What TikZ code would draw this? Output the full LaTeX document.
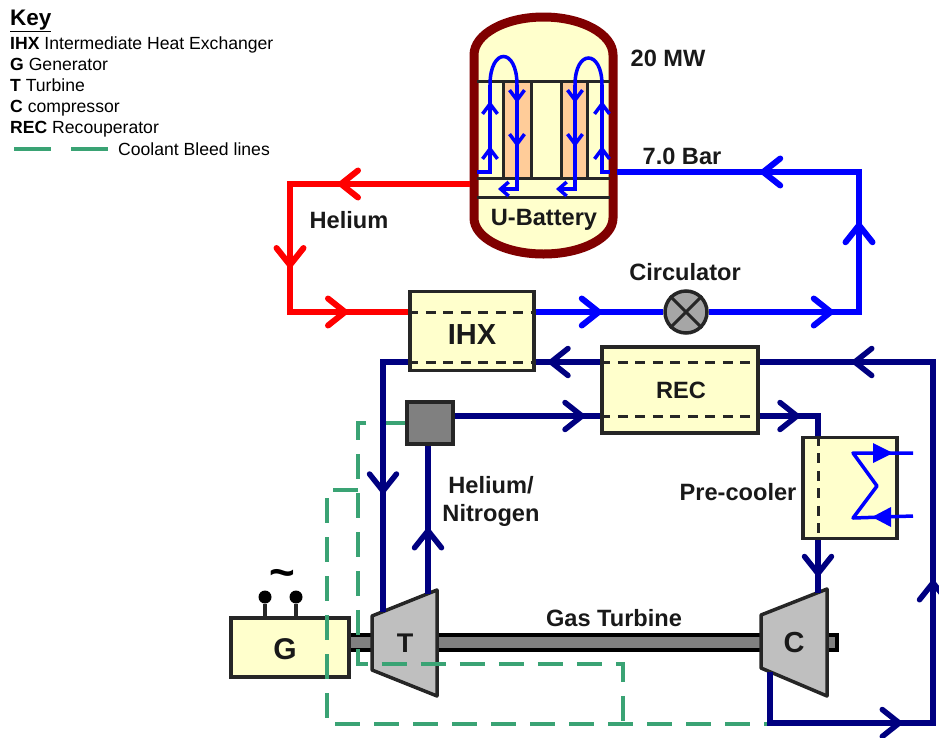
\documentclass[tikz,border=0pt]{standalone}
\usepackage{fontspec}
\setmainfont{Liberation Sans}
\usetikzlibrary{arrows.meta, decorations.markings}
\definecolor{cream}{HTML}{FFFFCC}
\definecolor{corepeach}{HTML}{FFCC99}
\definecolor{vesselred}{HTML}{800000}
\definecolor{bleedgreen}{HTML}{3AA374}
\definecolor{casinggray}{HTML}{BFBFBF}
\definecolor{navypipe}{HTML}{000080}

\begin{document}
\begin{tikzpicture}[
    x=1pt, y=-1pt,
    pipetip/.style={postaction={decorate,decoration={markings,
        mark=at position #1 with {\arrow{Straight Barb[length=17pt,width=27pt,round]}}}}},
    coretip/.style={postaction={decorate,decoration={markings,
        mark=at position #1 with {\arrow{Straight Barb[length=10pt,width=15pt]}}}}},
    hotpipe/.style={line width=6pt, color=red},
    coldpipe/.style={line width=6pt, color=blue},
    gaspipe/.style={line width=5.5pt, color=navypipe},
    corepipe/.style={line width=3.5pt, color=blue},
    bleedline/.style={line width=3.3pt, color=bleedgreen, dash pattern=on 25pt off 14pt},
    innerdash/.style={line width=3pt, color=black!85, dash pattern=on 10pt off 7.5pt},
    plant/.style={draw=black!85, line width=3.5pt, fill=cream, inner sep=0pt},
    casing/.style={draw=black!85, line width=3.5pt, fill=casinggray, line join=round},
    keytext/.style={anchor=base west, inner sep=0pt, font=\fontsize{17.6}{20}\selectfont},
    boldtext/.style={inner sep=0pt, font=\fontsize{23.6}{28}\bfseries\selectfont, text=black!90, align=center}
]
\useasboundingbox (0,0) rectangle (939,737);

% key
\node[keytext, font=\fontsize{22.5}{25}\bfseries\selectfont] (keyhead) at (10,25) {\underline{Key}};
\node[keytext] (keyihx) at (10,49) {\textbf{IHX} Intermediate Heat Exchanger};
\node[keytext] (keyg) at (10,70) {\textbf{G} Generator};
\node[keytext] (keyt) at (10,91) {\textbf{T} Turbine};
\node[keytext] (keyc) at (10,112) {\textbf{C} compressor};
\node[keytext] (keyrec) at (10,133) {\textbf{REC} Recouperator};
\node[keytext] (keybleed) at (118,155) {Coolant Bleed lines};
\coordinate (keydash) at (14,149);
\draw[bleedline, dash pattern=on 37pt off 20pt] (keydash) -- (108,149);

% reactor vessel
\draw[vesselred, line width=9pt, fill=cream] (474,55)
    arc[start angle=180, end angle=0, x radius=69.5, y radius=-38]
    -- (613,218)
    arc[start angle=0, end angle=-180, x radius=69.5, y radius=-36] -- cycle;
\fill[corepeach] (503,81) rectangle (531,178);
\fill[corepeach] (561,81) rectangle (587,178);
\draw[line width=3pt, black!85] (477,81) -- (610,81)
    (477,178) -- (610,178) (477,197) -- (610,197);
\foreach \corex in {503,531,561,587}
    \draw[line width=3pt, black!85] (\corex,81) -- (\corex,178);
\node[boldtext] (battery) at (544,220) {U-Battery};

% left core flow
\draw[corepipe, coretip=39pt, coretip=84pt] (477,172) -- (490,172) -- (490,85);
\draw[corepipe] (490,85) .. controls (490,47) and (517,47) .. (517,85);
\draw[corepipe, coretip=18pt, coretip=62pt, -{Straight Barb[length=8pt,width=14pt]}] (517,85) -- (517,189) -- (498,189);
% right core flow
\draw[corepipe, coretip=34pt, coretip=79pt] (610,172) -- (602,172) -- (602,85);
\draw[corepipe] (602,85) .. controls (602,49) and (575,49) .. (575,85);
\draw[corepipe, coretip=18pt, coretip=62pt, -{Straight Barb[length=8pt,width=14pt]}] (575,85) -- (575,189) -- (556,189);

% components
\node[plant, minimum width=124pt, minimum height=79pt] (ihx) at (472,331) {};
\node[boldtext, font=\fontsize{29}{30}\bfseries\selectfont] (ihxlabel) at (472,335) {IHX};
\node[plant, minimum width=156pt, minimum height=86pt] (rec) at (680,390) {};
\node[boldtext] (reclabel) at (681,390) {REC};
\node[plant, minimum width=94pt, minimum height=101pt] (cooler) at (850,488) {};
\node[draw=black!85, line width=3.5pt, fill=gray, minimum width=46pt, minimum height=42pt, inner sep=0pt] (valve) at (430,423) {};
\node[draw=black!85, line width=3.5pt, fill=gray!70, circle, minimum size=42pt, inner sep=0pt] (circulator) at (686,312) {};
\draw[black!85, line width=3pt] (circulator.north west) -- (circulator.south east)
    (circulator.north east) -- (circulator.south west);

% shaft and machines
\node[draw=black, line width=3.5pt, fill=gray, minimum width=488pt, minimum height=15pt, inner sep=0pt] (shaft) at (593,642.5) {};
\node[plant, minimum width=118pt, minimum height=59pt] (generator) at (290,647.5) {};
\draw[casing] (372,616) -- (437,590) -- (437,696) -- (372,670) -- cycle;
\draw[casing] (761,615) -- (827,589) -- (827,696) -- (761,668) -- cycle;
\node[boldtext, font=\fontsize{30}{30}\bfseries\selectfont] (glabel) at (285,649) {G};
\node[boldtext, font=\fontsize{27}{30}\bfseries\selectfont] (tlabel) at (405,643) {T};
\node[boldtext, font=\fontsize{29}{30}\bfseries\selectfont] (clabel) at (794,643) {C};

% generator terminals
\foreach \termx/\termname in {265/terma,296/termb} {
    \node[circle, fill=black, minimum size=13pt, inner sep=0pt] (\termname) at (\termx,597) {};
    \draw[line width=3.5pt, black!85] (\termname) -- (\termname |- generator.north);
}
\node[inner sep=0pt, font=\fontsize{44}{44}\bfseries\selectfont] (tilde) at (282,578) {\textasciitilde};

% bleed lines
\draw[bleedline] (valve.west |- 0,423) -- (358,423) -- (358,664) -- (623,664) -- (623,723);
\draw[bleedline] (358,490) -- (327,490) -- (327,724) -- (770,724);

% helium circuit
\draw[hotpipe, pipetip=132pt, pipetip=264pt, pipetip=366pt]
    (470,184) -- (290,184) -- (290,312) -- (ihx.west |- 0,312);
\draw[coldpipe, pipetip=66pt] (ihx.east |- 0,312) -- (circulator.west);
\draw[coldpipe, pipetip=125pt, pipetip=240pt, pipetip=389pt]
    (circulator.east) -- (859,312) -- (859,172) -- (617,172);

% gas circuit
\draw[gaspipe, pipetip=52pt] (rec.west |- 0,362) -- (ihx.east |- 0,362);
\draw[gaspipe, pipetip=157pt] (ihx.west |- 0,362) -- (383,362) -- (383,612);
\draw[gaspipe, pipetip=130pt] (valve.east |- 0,416) -- (rec.west |- 0,416);
\draw[gaspipe, pipetip=66pt] (428,594) -- (valve.south -| 428,0);
\draw[gaspipe, pipetip=40pt] (rec.east |- 0,416) -- (818,416) -- (cooler.north -| 818,0);
\draw[gaspipe, pipetip=36pt] (cooler.south -| 818,0) -- (818,593);
\draw[gaspipe, pipetip=183pt, pipetip=357pt, pipetip=656pt]
    (770,672) -- (770,723) -- (933,723) -- (933,362) -- (rec.east |- 0,362);

% dashes through the exchangers
\draw[innerdash] (ihx.west |- 0,312) -- (ihx.east |- 0,312);
\draw[innerdash] (ihx.west |- 0,362) -- (ihx.east |- 0,362);
\draw[innerdash] (rec.west |- 0,362) -- (rec.east |- 0,362);
\draw[innerdash] (rec.west |- 0,416) -- (rec.east |- 0,416);
\draw[innerdash] (cooler.north -| 818,0) -- (cooler.south -| 818,0);

% cooling coil
\draw[blue, line width=3.5pt, line join=round] (913,453) -- (853,453) -- (877,486) -- (853,518) -- (913,516);
\fill[blue] (893,453) -- (873,443) -- (873,463) -- cycle;
\fill[blue] (872,517) -- (891,507) -- (891,527) -- cycle;

% labels
\node[boldtext] (power) at (668,58) {20 MW};
\node[boldtext] (pressure) at (682,156) {7.0 Bar};
\node[boldtext] (helium) at (349,220) {Helium};
\node[boldtext] (circlabel) at (685,272) {Circulator};
\node[boldtext] (coolerlabel) at (738,492) {Pre-cooler};
\node[boldtext] (mixlabel) at (491,501) {Helium/\\Nitrogen};
\node[boldtext] (gaslabel) at (614,618) {Gas Turbine};
\end{tikzpicture}
\end{document}
